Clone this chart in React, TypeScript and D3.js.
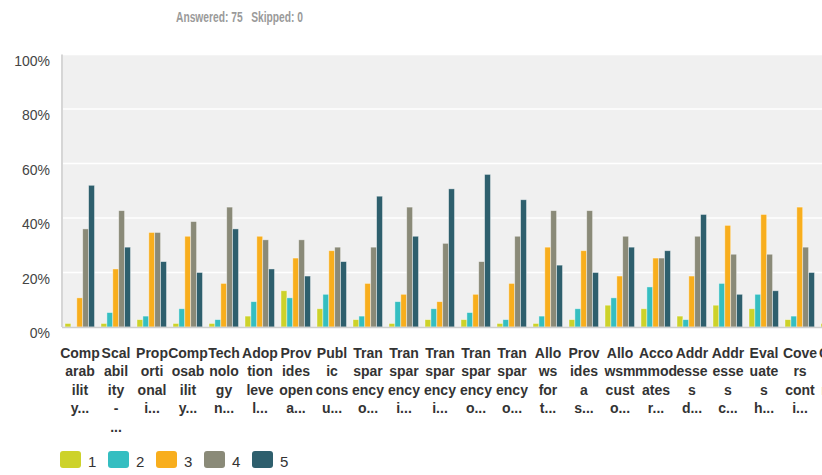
import React from 'react';
import * as d3 from "d3";

// constants
const width = 822;
const height = 475;
const margin = { top: 54.5, left: 62, bottom: 327 };
const step = 36;

const seriesNames = ["1", "2", "3", "4", "5"];
const colours = ["#cdd22a", "#35bec1", "#f8ae1d", "#8a8a78", "#2e5f6d"];
const yTicks = [0, 20, 40, 60, 80, 100];

// tick labels as they are cut into lines in the chart
const categories = [
  ["Comp", "arab", "ilit", "y..."],
  ["Scal", "abil", "ity", "-", "..."],
  ["Prop", "orti", "onal", "i..."],
  ["Comp", "osab", "ilit", "y..."],
  ["Tech", "nolo", "gy", "n..."],
  ["Adop", "tion", "leve", "l..."],
  ["Prov", "ides", "open", "a..."],
  ["Publ", "ic", "cons", "u..."],
  ["Tran", "spar", "ency", "o..."],
  ["Tran", "spar", "ency", "i..."],
  ["Tran", "spar", "ency", "i..."],
  ["Tran", "spar", "ency", "o..."],
  ["Tran", "spar", "ency", "o..."],
  ["Allo", "ws", "for", "t..."],
  ["Prov", "ides", "a", "s..."],
  ["Allo", "wsm", "cust", "o..."],
  ["Acco", "mmod", "ates", "r..."],
  ["Addr", "esse", "s", "d..."],
  ["Addr", "esse", "s", "c..."],
  ["Eval", "uate", "s", "h..."],
  ["Cove", "rs", "cont", "i..."],
  ["Cove", "rs", "resp", "o..."],
];

// percent of respondents per rating
const series1 = [1.3, 1.3, 2.7, 1.3, 1.3, 4, 13.3, 6.7, 2.7, 1.3, 2.7, 2.7, 1.3, 1.3, 2.7, 8, 6.7, 4, 8, 6.7, 2.7, 1.3];
const series2 = [0, 5.3, 4, 6.7, 2.7, 9.3, 10.7, 12, 4, 9.3, 6.7, 5.3, 2.7, 4, 6.7, 10.7, 14.7, 2.7, 16, 12, 4, 4];
const series3 = [10.7, 21.3, 34.7, 33.3, 16, 33.3, 25.3, 28, 16, 12, 9.3, 12, 16, 29.3, 28, 18.7, 25.3, 18.7, 37.3, 41.3, 44, 26.7];
const series4 = [36, 42.7, 34.7, 38.7, 44, 32, 32, 29.3, 29.3, 44, 30.7, 24, 33.3, 42.7, 42.7, 33.3, 25.3, 33.3, 26.7, 26.7, 29.3, 40];
const series5 = [52, 29.3, 24, 20, 36, 21.3, 18.7, 24, 48, 33.3, 50.7, 56, 46.7, 22.7, 20, 29.3, 28, 41.3, 12, 13.3, 20, 28];
const allSeries = [series1, series2, series3, series4, series5];

const App = () => {
  const idx = categories.map((d, i) => i);

  // define your scales
  const x0 = d3.scaleBand()
    .domain(idx)
    .range([margin.left, margin.left + step * categories.length]);
  const x1 = d3.scaleBand()
    .domain(seriesNames)
    .range([3, 32.5]);
  const yScale = d3.scaleLinear()
    .domain([0, 100])
    .range([margin.bottom, margin.top]);

  const labelFont = 'Arial, "Liberation Sans", sans-serif';

  return (
    <div style={{ position: 'absolute', left: 0, top: 0, width, height, overflow: 'hidden', background: '#fff' }}>
      <svg width={width} height={height}>
        {/* header, squeezed like the condensed font of the original */}
        <text x={176} y={22} fill="#9a9a9a" fontSize={14.5} fontWeight="bold" fontFamily={labelFont}
          textLength={127} lengthAdjust="spacingAndGlyphs">{"Answered: 75\u00a0\u00a0\u00a0Skipped: 0"}</text>

        {/* plot background and grid */}
        <rect x={margin.left} y={margin.top} width={width} height={margin.bottom - margin.top} fill="#f0f0f0" />
        {yTicks.filter(t => t > 0).map(t => (
          <line key={t} x1={margin.left} x2={width} y1={yScale(t)} y2={yScale(t)} stroke="#fff" strokeWidth={1.5} />
        ))}
        {yTicks.map(t => (
          <text key={t} x={50} y={yScale(t) + 11} textAnchor="end" fontSize={14} fill="#444" fontFamily={labelFont}>{t}%</text>
        ))}

        {/* bars */}
        {idx.map(i => (
          <g key={i} transform={`translate(${x0(i)},0)`}>
            {allSeries.map((s, j) => (
              s[i] > 0 && <rect
                key={j}
                x={x1(seriesNames[j])}
                y={yScale(s[i])}
                width={x1.bandwidth()}
                height={yScale(0) - yScale(s[i])}
                fill={colours[j]}
                stroke="#fff"
                strokeOpacity={0.5}
                strokeWidth={0.8}
              />
            ))}
          </g>
        ))}

        <line x1={margin.left} x2={width} y1={margin.bottom + 0.5} y2={margin.bottom + 0.5} stroke="#cfcfcf" strokeWidth={1.5} />
        <line x1={margin.left} x2={margin.left} y1={margin.top} y2={margin.bottom} stroke="#d6d6d6" strokeWidth={2} />

        {/* category labels */}
        {idx.map(i => (
          <text key={i} textAnchor="middle" fontSize={14} fontWeight="bold" fill="#333" fontFamily={labelFont}>
            {categories[i].map((line, k) => (
              <tspan key={k} x={x0(i) + step / 2} y={357.5 + k * 18.6}>{line}</tspan>
            ))}
          </text>
        ))}

        {/* legend */}
        {seriesNames.map((name, j) => (
          <g key={name} transform={`translate(${60 + j * 48},451)`}>
            <rect width={21} height={17} rx={3} fill={colours[j]} />
            <text x={28} y={16} fontSize={15} fill="#333" fontFamily={labelFont}>{name}</text>
          </g>
        ))}
      </svg>
    </div>
  );
};

export default App;
